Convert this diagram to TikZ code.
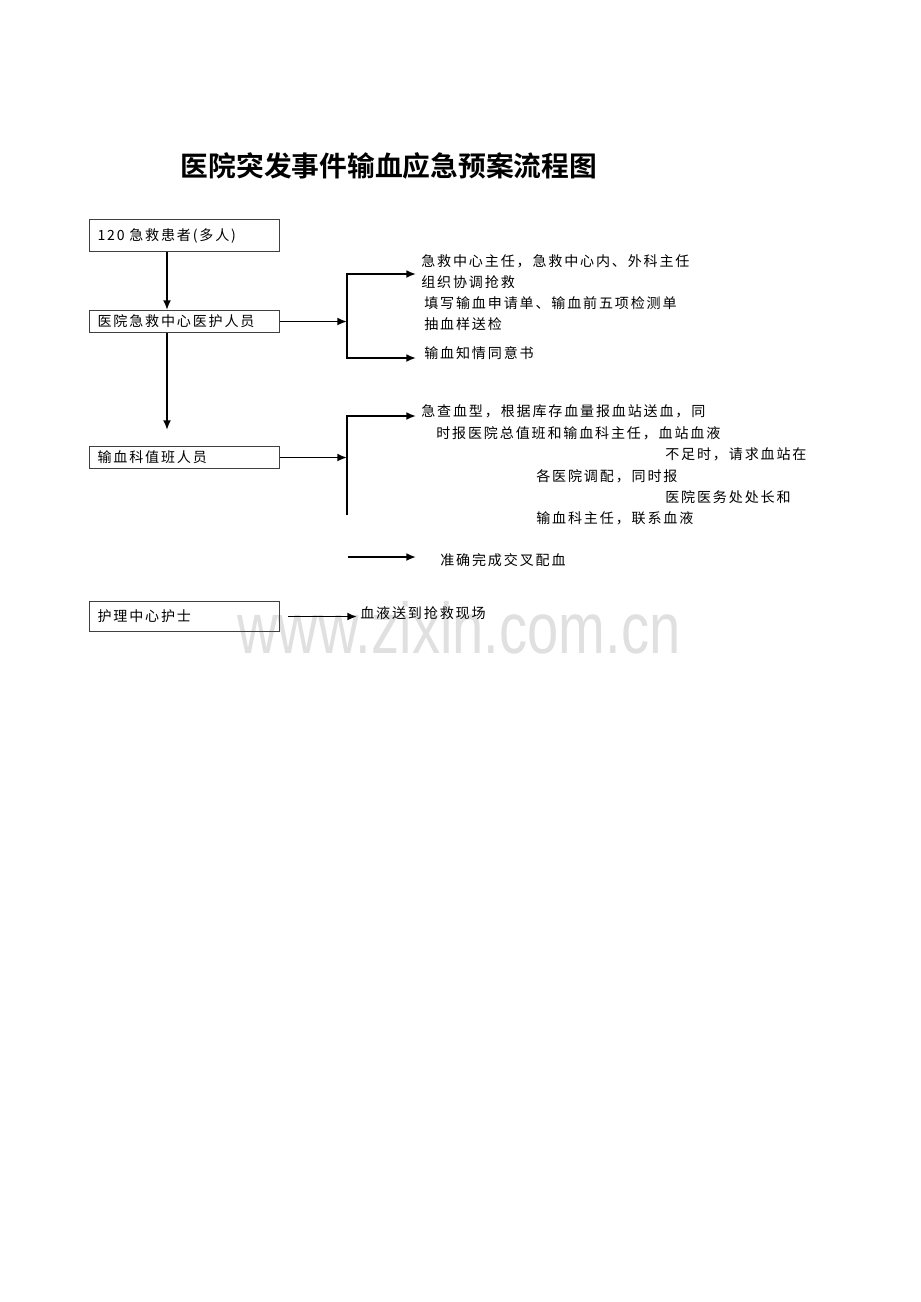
\documentclass[tikz,border=0pt]{standalone}
\usepackage{fontspec}
\newfontfamily\cjk[LetterSpace=13]{Noto Sans CJK SC}
\newfontfamily\cjktitle{Noto Sans CJK SC Bold}
\newfontfamily\wmfont{Liberation Sans}
\usetikzlibrary{positioning}
\usetikzlibrary{calc}
\usetikzlibrary{arrows.meta}

\begin{document}
\begin{tikzpicture}[x=0.02cm, y=-0.02cm, font=\cjk\fontsize{8}{10}\selectfont,
		box/.style={draw=black!75, line width=0.6pt, anchor=north west, minimum width=3.8cm, text width=3.48cm, align=left, inner xsep=0.16cm, inner ysep=0},
		txt/.style={anchor=west, inner sep=0},
		link/.style={line width=1pt, -{Latex[length=5.5pt, width=4.5pt]}}]
		\useasboundingbox (0,0) rectangle (920,1302);

		\node (mark) [anchor=base, inner sep=0, text=black!12, font=\wmfont\fontsize{41}{42}\selectfont] at (459,653) {\scalebox{0.78}[1]{www.zixin.com.cn}};

		\node (title) [font=\cjktitle\fontsize{15.8}{20}\selectfont] at (389,166) {医院突发事件输血应急预案流程图};

		\node (patient) [box, minimum height=0.64cm] at (89,219) {120 急救患者(多人)};
		\node (medic) [box, minimum height=0.44cm] at (89,310) {医院急救中心医护人员};
		\node (duty) [box, minimum height=0.44cm] at (89,446) {输血科值班人员};
		\node (nurse) [box, minimum height=0.6cm] at (89,601) {护理中心护士};

		\node (chief) [txt] at (421,261) {急救中心主任，急救中心内、外科主任};
		\node (organize) [txt] at (421,282) {组织协调抢救};
		\node (form) [txt] at (424,303) {填写输血申请单、输血前五项检测单};
		\node (sample) [txt] at (424,324) {抽血样送检};
		\node (consent) [txt] at (424,353) {输血知情同意书};

		\node (report1) [txt] at (421,411) {急查血型，根据库存血量报血站送血，同};
		\node (report2) [txt] at (436,433) {时报医院总值班和输血科主任，血站血液};
		\node (report3) [txt] at (665,454) {不足时，请求血站在};
		\node (report4) [txt] at (536,476) {各医院调配，同时报};
		\node (report5) [txt] at (665,497) {医院医务处处长和};
		\node (report6) [txt] at (536,518) {输血科主任，联系血液};

		\node (crossmatch) [txt] at (440,560) {准确完成交叉配血};
		\node (scene) [txt] at (360,613) {血液送到抢救现场};

		\coordinate (spine) at (167,0);
		\coordinate (gap) at (167,430);
		\draw [link] (patient.south -| spine) -- (medic.north -| spine);
		\draw [link] (medic.south -| spine) -- (gap);

		\coordinate (fork1) at (347,274);
		\coordinate (fork1end) at (347,358);
		\draw [link] (medic.east) -- (medic.east -| fork1);
		\draw [link, shorten >=0.1cm] (fork1end) -- (fork1) -- (fork1 -| chief.west);
		\draw [link, shorten >=0.1cm] (fork1) -- (fork1end) -- (fork1end -| chief.west);

		\coordinate (fork2) at (347,416);
		\coordinate (fork2end) at (347,515);
		\draw [link] (duty.east) -- (duty.east -| fork2);
		\draw [link, shorten >=0.1cm] (fork2end) -- (fork2) -- (fork2 -| report1.west);

		\coordinate (crossfrom) at (348,557);
		\draw [link, shorten >=0.48cm] (crossfrom) -- (crossfrom -| crossmatch.west);

		\draw [link, shorten >=0.06cm] ([xshift=0.16cm]nurse.east) -- (nurse.east -| scene.west);
	\end{tikzpicture}
\end{document}
